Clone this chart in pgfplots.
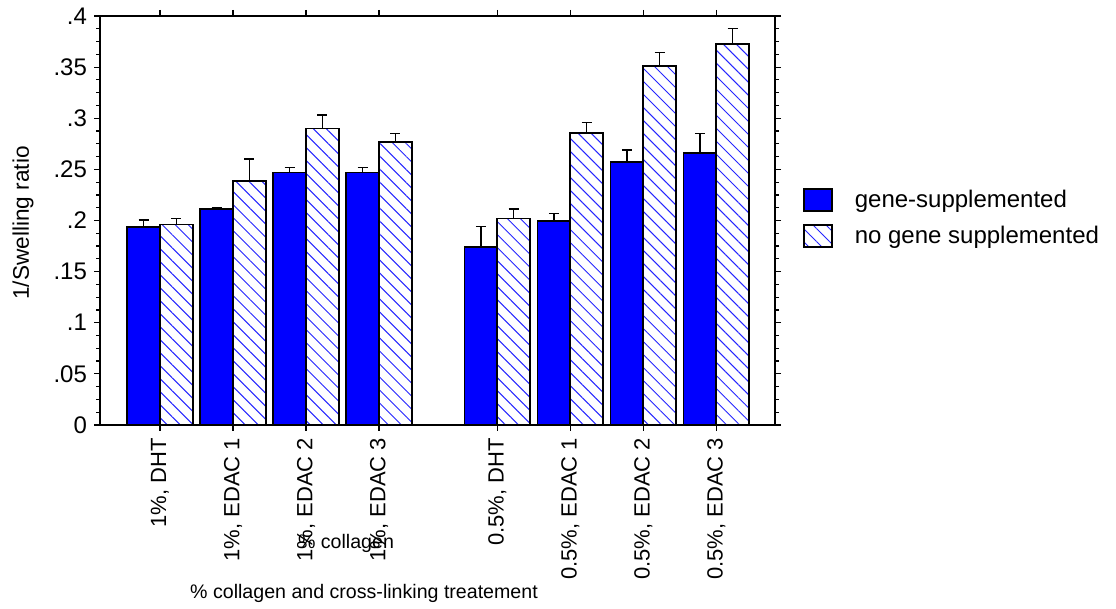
\documentclass[border=0pt]{standalone}
\usepackage{pgfplots}
\pgfplotsset{compat=1.18}
\usepackage{fontspec}
\setmainfont{Liberation Sans}
\usetikzlibrary{patterns.meta}
\begin{document}
\begin{tikzpicture}
\path[use as bounding box] (0,0) rectangle (558pt,304.5pt);
\begin{axis}[
  at={(50pt,92pt)}, anchor=south west,
  scale only axis, width=337.5pt, height=204.5pt,
  xmin=-0.822, xmax=8.425, ymin=0, ymax=0.4,
  xtick={0,1,2,3,4.62,5.62,6.62,7.62},
  xticklabels={{1\%, DHT},{1\%, EDAC 1},{1\%, EDAC 2},{1\%, EDAC 3},{0.5\%, DHT},{0.5\%, EDAC 1},{0.5\%, EDAC 2},{0.5\%, EDAC 3}},
  x tick label style={rotate=90, anchor=east, font=\fontsize{11}{13}\selectfont},
  ytick={0,0.05,0.1,0.15,0.2,0.25,0.3,0.35,0.4},
  yticklabels={0,.05,.1,.15,.2,.25,.3,.35,.4},
  y tick label style={font=\fontsize{12}{14}\selectfont},
  minor y tick num=3,
  tick align=outside,
  major tick length=3pt, minor tick length=2pt,
  axis line style={line width=0.8pt},
  every tick/.style={black, line width=0.6pt},
  ybar, bar width=0.45,
  clip=false,
  legend style={draw=none, fill=none, at={(1.032,0.506)}, anchor=west,
    font=\fontsize{12}{14}\selectfont, row sep=4pt,
    /tikz/every odd column/.append style={column sep=9pt}},
  legend cell align=left,
  legend image code/.code={\draw[#1] (0pt,-5.5pt) rectangle (14pt,5.5pt);},
  error bars/error bar style={black, line width=0.7pt},
  error bars/error mark options={rotate=90, black, mark size=2.5pt, line width=0.7pt},
]
\addplot[bar shift=-0.225, fill=blue, draw=black, line width=0.9pt,
  error bars/.cd, y dir=plus, y explicit] coordinates {
  (0,0.194) +- (0,0.0065)
  (1,0.211) +- (0,0.0015)
  (2,0.247) +- (0,0.0047)
  (3,0.247) +- (0,0.0047)
  (4.62,0.1744) +- (0,0.0196)
  (5.62,0.1998) +- (0,0.0072)
  (6.62,0.2575) +- (0,0.0115)
  (7.62,0.2657) +- (0,0.0196)
};
\addlegendentry{gene-supplemented}
\addplot[bar shift=0.225, fill=white, draw=black, line width=0.9pt,
  postaction={pattern={Lines[angle=-45,distance=4.6pt,line width=0.5pt]}, pattern color=blue!85!white},
  error bars/.cd, y dir=plus, y explicit] coordinates {
  (0,0.196) +- (0,0.006)
  (1,0.2386) +- (0,0.0214)
  (2,0.290) +- (0,0.013)
  (3,0.277) +- (0,0.008)
  (4.62,0.202) +- (0,0.0093)
  (5.62,0.2853) +- (0,0.0104)
  (6.62,0.3511) +- (0,0.0134)
  (7.62,0.3726) +- (0,0.0154)
};
\addlegendentry{no gene supplemented}
\end{axis}
\node[rotate=90, font=\fontsize{11.3}{13}\selectfont] at (11.5pt,193pt) {1/Swelling ratio};
\node[font=\fontsize{9.8}{12}\selectfont] at (182pt,8pt) {\% collagen and cross-linking treatement};
\node[font=\fontsize{9.8}{12}\selectfont] at (173pt,33pt) {\% collagen};
\end{tikzpicture}
\end{document}
